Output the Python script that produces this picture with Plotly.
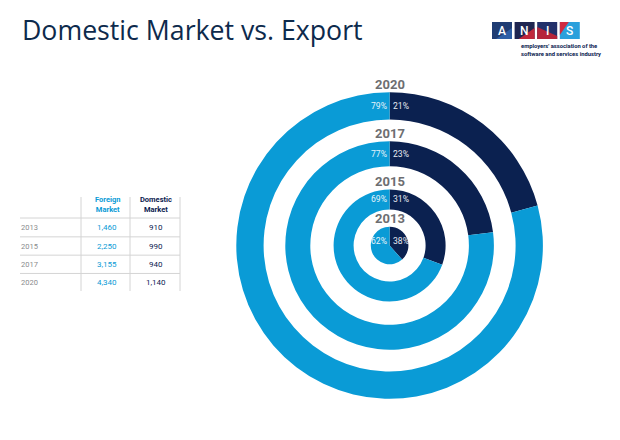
import plotly.graph_objects as go

# data
years = ["2013", "2015", "2017", "2020"]
foreign_market = [1460, 2250, 3155, 4340]
domestic_market = [910, 990, 940, 1140]

NAVY = "#0b2150"
LIGHT = "#0a9bd6"
GRAY = "#6d6e71"
W, H = 620, 440

# ring geometry in px (center + outer/inner radius per year)
CX, CY = 389.6, 245.5
R_OUT = [18.8, 56, 104.3, 153.3]
R_IN = [0, 36, 79.3, 126]


def px(x):
    return x / W


def py(y):
    return 1 - y / H


fig = go.Figure()
annotations = []
shapes = []

for i, yr in enumerate(years):
    r = R_OUT[i]
    fig.add_trace(go.Pie(
        values=[domestic_market[i], foreign_market[i]],
        labels=["Domestic Market", "Foreign Market"],
        marker=dict(colors=[NAVY, LIGHT], line=dict(width=0)),
        hole=R_IN[i] / r,
        sort=False,
        direction="clockwise",
        textinfo="none",
        hoverinfo="label+value+percent",
        showlegend=False,
        domain=dict(x=[px(CX - r), px(CX + r)], y=[py(CY + r), py(CY - r)]),
    ))
    total = foreign_market[i] + domestic_market[i]
    f_pct = round(100 * foreign_market[i] / total)
    d_pct = 100 - f_pct
    lab_r = (R_OUT[i] + R_IN[i]) / 2 if R_IN[i] else 0.22 * r
    ly = CY - lab_r
    annotations.append(dict(x=px(CX - 1), y=py(ly), text=f"{f_pct}%", xanchor="right",
                            yanchor="middle", font=dict(family="Roboto", size=8.6, color="#e6f3fa")))
    annotations.append(dict(x=px(CX + 1), y=py(ly), text=f"{d_pct}%", xanchor="left",
                            yanchor="middle", font=dict(family="Roboto", size=8.6, color="#e6eaf2")))
    annotations.append(dict(x=px(CX), y=py(CY - r - 8), text=f"<b>{yr}</b>", xanchor="center",
                            yanchor="middle", font=dict(family="Roboto", size=13, color=GRAY)))

# title
annotations.append(dict(x=px(20), y=py(30), text="Domestic Market vs. Export", xanchor="left",
                        yanchor="middle", font=dict(family="Open Sans", size=26.7, color="#0d2a4c")))

# table
annotations.append(dict(x=px(107), y=py(205), text="<b>Foreign<br>Market</b>", xanchor="center",
                        yanchor="middle", font=dict(family="Roboto", size=7.5, color=LIGHT)))
annotations.append(dict(x=px(156), y=py(205), text="<b>Domestic<br>Market</b>", xanchor="center",
                        yanchor="middle", font=dict(family="Roboto", size=7.5, color=NAVY)))
row_y0, row_h = 227.7, 18.3
for i, yr in enumerate(years):
    y = row_y0 + i * row_h
    annotations.append(dict(x=px(19), y=py(y), text=yr, xanchor="left", yanchor="middle",
                            font=dict(family="Roboto", size=7.5, color="#8a8b8d")))
    annotations.append(dict(x=px(107), y=py(y), text=f"{foreign_market[i]:,}", xanchor="center",
                            yanchor="middle", font=dict(family="Roboto", size=8, color=LIGHT)))
    annotations.append(dict(x=px(156), y=py(y), text=f"{domestic_market[i]:,}", xanchor="center",
                            yanchor="middle", font=dict(family="Roboto", size=8, color=NAVY)))
    if i < len(years) - 1:
        shapes.append(dict(type="line", xref="paper", yref="paper", x0=px(20), x1=px(180),
                           y0=py(y + row_h / 2), y1=py(y + row_h / 2),
                           line=dict(color="#d4d4d4", width=1)))
shapes.append(dict(type="line", xref="paper", yref="paper", x0=px(20), x1=px(180),
                   y0=py(218), y1=py(218), line=dict(color="#d4d4d4", width=1)))
for xv in [81, 130, 180]:
    shapes.append(dict(type="line", xref="paper", yref="paper", x0=px(xv), x1=px(xv),
                       y0=py(197), y1=py(291), line=dict(color="#d4d4d4", width=1)))

# logo: four tiles, each with a diagonal accent
logo_base = ["#1f3c73", "#1e2550", "#22306a", "#2aa0dc"]
logo_accent = ["#2d5ea6", "#c0283c", "#b5243a", "#cf2a40"]
tile_w, tile_gap, ty0, ty1 = 20, 2.6, 22, 39
for k, letter in enumerate("ANIS"):
    x0 = 492 + k * (tile_w + tile_gap)
    x1 = x0 + tile_w
    shapes.append(dict(type="rect", xref="paper", yref="paper", x0=px(x0), x1=px(x1),
                       y0=py(ty1), y1=py(ty0), fillcolor=logo_base[k], line=dict(width=0)))
    if k < 2:
        tri = [(x1, ty0 + 6), (x1, ty1), (x0 + 4, ty1)]
    elif k == 2:
        tri = [(x0, ty0 + 5), (x1, ty1 - 3), (x1, ty1), (x0, ty1)]
    else:
        tri = [(x0, ty0), (x0 + 9, ty0), (x0, ty1 - 4)]
    path = "M " + " L ".join(f"{px(a):.5f},{py(b):.5f}" for a, b in tri) + " Z"
    shapes.append(dict(type="path", xref="paper", yref="paper", path=path,
                       fillcolor=logo_accent[k], line=dict(width=0)))
    annotations.append(dict(x=px(x0 + tile_w / 2), y=py(30.5), text=letter, xanchor="center",
                            yanchor="middle", font=dict(family="Roboto", size=12, color="white", weight=500)))
annotations.append(dict(x=px(519), y=py(50), text="<b>employers' association of the<br>software and services industry</b>",
                        xanchor="left", yanchor="middle", align="left",
                        font=dict(family="Roboto", size=5.8, color=NAVY)))

fig.update_layout(
    width=W, height=H,
    margin=dict(l=0, r=0, t=0, b=0),
    paper_bgcolor="white",
    plot_bgcolor="white",
    annotations=[dict(a, xref="paper", yref="paper", showarrow=False) for a in annotations],
    shapes=shapes,
)

fig.write_html("out.html", config={"displayModeBar": False},
               post_script="document.body.style.margin = '0';")
